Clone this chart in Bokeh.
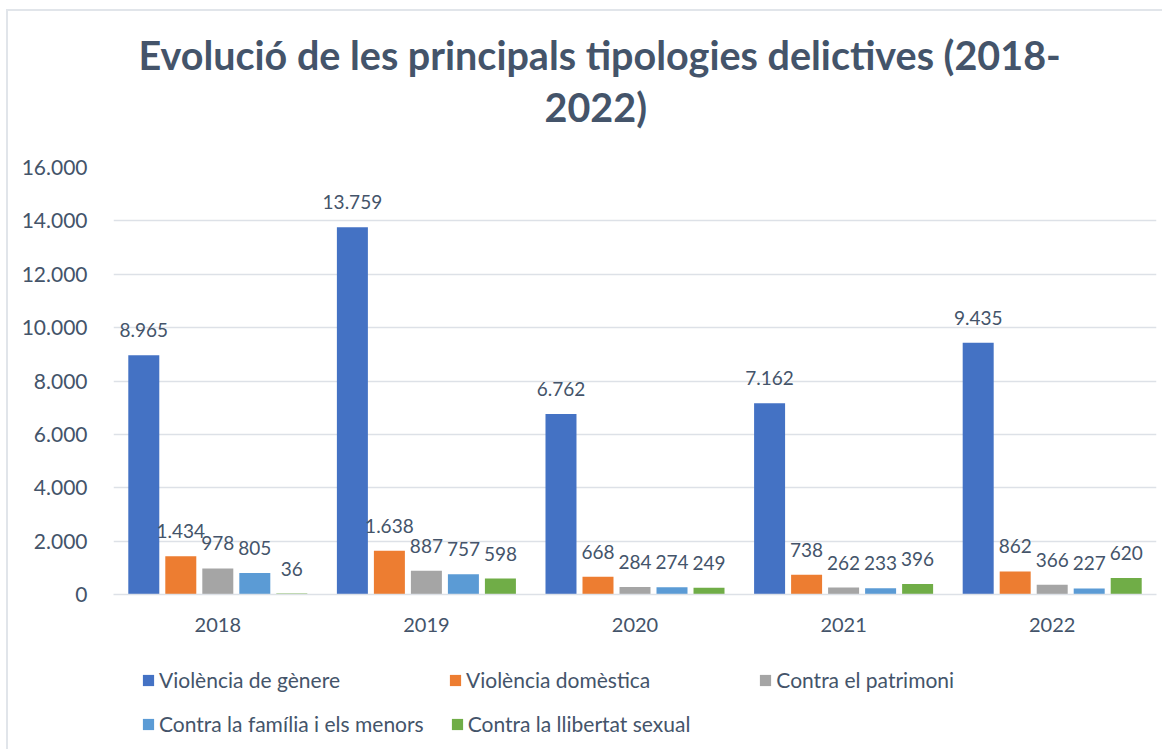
from bokeh.plotting import figure
from bokeh.models import (FactorRange, Range1d, ColumnDataSource, Legend, LegendItem,
                          FixedTicker, Title)
from bokeh.layouts import column
from bokeh.transform import dodge
from bokeh.core.properties import value
from bokeh.embed import file_html
from bokeh.resources import INLINE

years = ["2018", "2019", "2020", "2021", "2022"]
series_names = ["Violència de gènere", "Violència domèstica", "Contra el patrimoni",
                "Contra la família i els menors", "Contra la llibertat sexual"]
violencia_genere = [8965, 13759, 6762, 7162, 9435]
violencia_domestica = [1434, 1638, 668, 738, 862]
contra_patrimoni = [978, 887, 284, 262, 366]
contra_familia = [805, 757, 274, 233, 227]
contra_llibertat = [36, 598, 249, 396, 620]
y_ticks = [0, 2000, 4000, 6000, 8000, 10000, 12000, 14000, 16000]
title_line1 = "Evolució de les principals tipologies delictives (2018-"
title_line2 = "2022)"

series_values = [violencia_genere, violencia_domestica, contra_patrimoni,
                 contra_familia, contra_llibertat]
colors = ["#4472c4", "#ed7d31", "#a5a5a5", "#5b9bd5", "#70ad47"]
TXT = "#44546a"
GRID = "#dde1e7"
FONT = "Lato"

def fmt(v):
    return f"{v:,}".replace(",", ".")

p = figure(x_range=FactorRange(*years, range_padding=0), y_range=Range1d(0, 16000),
           width=1154, height=639, output_backend="svg", toolbar_location=None,
           min_border_left=105, min_border_right=6, min_border_top=156, min_border_bottom=56)
p.outline_line_color = None

p.title.text = title_line1
p.title.align = "left"
p.title.offset = 25
p.title.text_font = FONT
p.title.text_font_size = "39.5px"
p.title.text_font_style = "bold"
p.title.text_color = TXT
p.title.standoff = -69
p.add_layout(Title(text=title_line2, align="left", offset=431, text_font=FONT,
                   text_font_size="39.5px", text_font_style="bold", text_color=TXT,
                   standoff=75), "above")

p.yaxis.ticker = FixedTicker(ticks=y_ticks)
p.yaxis.major_label_overrides = {t: fmt(t) for t in y_ticks}
p.yaxis.axis_line_color = None
p.yaxis.major_tick_line_color = None
p.yaxis.minor_tick_line_color = None
p.yaxis.major_label_text_font = FONT
p.yaxis.major_label_text_font_size = "21px"
p.yaxis.major_label_text_color = TXT
p.yaxis.major_label_standoff = 20

p.xaxis.axis_line_color = GRID
p.xaxis.axis_line_width = 1.5
p.xaxis.major_tick_line_color = None
p.xaxis.minor_tick_line_color = None
p.xaxis.major_label_text_font = FONT
p.xaxis.major_label_text_font_size = "20px"
p.xaxis.major_label_text_color = TXT
p.xaxis.major_label_standoff = 17

p.xgrid.grid_line_color = None
p.ygrid.grid_line_color = GRID
p.ygrid.grid_line_width = 1.5

step = 0.1774
bw = 0.1486
sources = []
for i, (name, vals, c) in enumerate(zip(series_names, series_values, colors)):
    src = ColumnDataSource(dict(x=years, y=vals, lab=[fmt(v) for v in vals]))
    sources.append(src)
    off = (i - 2) * step
    p.vbar(x=dodge("x", off, range=p.x_range), top="y", width=bw, source=src,
           fill_color=c, line_color=None)
    p.text(x=dodge("x", off, range=p.x_range), y="y", text="lab", source=src,
           text_align="center", text_baseline="alphabetic", y_offset=-25,
           text_font=value(FONT), text_font_size="19px", text_color=TXT)

# legend strip below the chart
lp = figure(width=1154, height=99, output_backend="svg", toolbar_location=None,
            x_range=FactorRange(*years), y_range=Range1d(0, 1),
            x_axis_type=None, y_axis_type=None,
            min_border_left=0, min_border_right=0, min_border_top=0, min_border_bottom=0)
lp.outline_line_color = None
lp.xgrid.grid_line_color = None
lp.ygrid.grid_line_color = None
legend_renderers = []
for src, c in zip(sources, colors):
    legend_renderers.append(lp.vbar(x="x", top="y", width=0.1, source=src, fill_color=c,
                                    line_color=None, visible=False))

def make_legend(idx, spacing, y):
    items = [LegendItem(label=series_names[k], renderers=[legend_renderers[k]]) for k in idx]
    lg = Legend(items=items, orientation="horizontal", location=(28, y),
                spacing=spacing, padding=0, margin=0, border_line_color=None,
                background_fill_alpha=0, glyph_width=14, glyph_height=14,
                label_standoff=4, label_height=24, label_text_font=FONT,
                label_text_font_size="21px", label_text_color=TXT)
    lp.add_layout(lg, "center")

make_legend([0, 1, 2], 108, 57)
make_legend([3, 4], 26, 13)

layout = column(p, lp, spacing=0)
layout.styles = {"border-top": "2px solid #e1e5ea", "border-left": "2px solid #e1e5ea",
                 "margin-left": "6px", "margin-top": "9px"}

open("out.html", "w").write(file_html(layout, INLINE))
